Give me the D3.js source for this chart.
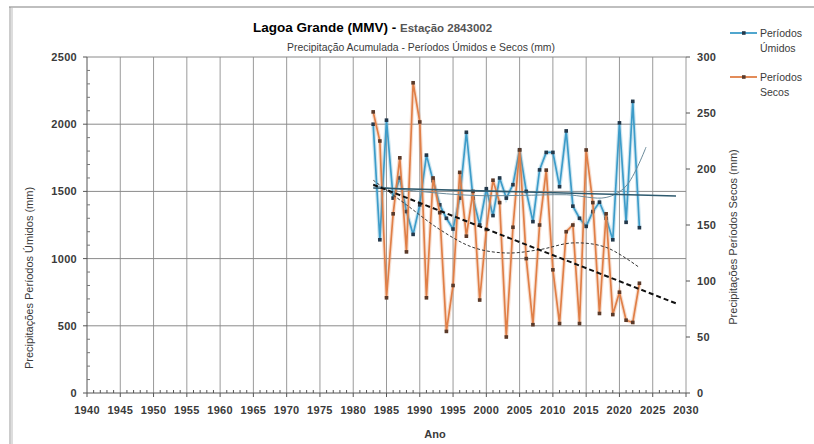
<!DOCTYPE html>
<html><head><meta charset="utf-8">
<script src="https://cdn.jsdelivr.net/npm/d3@7"></script>
<style>
body{margin:0;background:#fff;}
svg{display:block;font-family:"Liberation Sans",Arial,sans-serif;}
</style></head>
<body>
<svg id="c" width="814" height="444"></svg>
<script>
// ---- data ----
const years = d3.range(1983, 2024);
const umidos = [2000,1140,2030,1450,1600,1350,1180,1400,1770,1580,1400,1300,1220,1450,1940,1450,1250,1520,1320,1600,1450,1550,1810,1500,1275,1660,1790,1790,1535,1950,1390,1300,1240,1350,1420,1300,1140,2010,1270,2170,1230];
const secos = [251,225,85,160,210,126,277,242,85,192,161,55,96,197,140,180,83,146,190,170,50,148,217,120,61,150,199,110,62,144,150,62,217,170,71,160,70,90,65,63,98];
const trendSecosYears = [1983, 2028.5];
const trendSecosVals = [186, 80];
const trendUmidosYears = [1983, 2028.5];
const trendUmidosVals = [1525, 1466];
const polySecosYears = [1983,1988,1993,1998,2003,2008,2013,2018,2023];
const polySecosVals = [190,168,146,130,125,128,134,130,112];
const polyUmidosYears = [1983,1990,1998,2005,2012,2018,2021,2024];
const polyUmidosVals = [1540,1500,1470,1470,1475,1455,1540,1830];
const xTicks = d3.range(1940, 2031, 5);
const yLeftTicks = [0,500,1000,1500,2000,2500];
const yRightTicks = [0,50,100,150,200,250,300];

const svg = d3.select("#c");
const x = d3.scaleLinear().domain([1940,2030]).range([87,686]);
const yL = d3.scaleLinear().domain([0,2500]).range([393,57]);
const yR = d3.scaleLinear().domain([0,300]).range([393,57]);
const tickFont = 11, tickCol = "#3a3a3a";

// frame
svg.append("line").attr("x1",9).attr("x2",814).attr("y1",7).attr("y2",7).attr("stroke","#aaa").attr("stroke-width",1.5);
svg.append("line").attr("x1",10).attr("x2",10).attr("y1",7).attr("y2",444).attr("stroke","#999").attr("stroke-width",1);
svg.append("line").attr("x1",12).attr("x2",12).attr("y1",7).attr("y2",444).attr("stroke","#bbb").attr("stroke-width",1);

// grid
const g = svg.append("g");
g.selectAll(".vg").data(xTicks.filter(d=>d>1940)).enter().append("line")
  .attr("x1",d=>x(d)).attr("x2",d=>x(d)).attr("y1",yL(2500)).attr("y2",yL(0))
  .attr("stroke","#9a9a9a").attr("stroke-width",1);
g.selectAll(".hg").data(yLeftTicks.filter(d=>d>0)).enter().append("line")
  .attr("x1",x(1940)).attr("x2",x(2030)).attr("y1",d=>yL(d)).attr("y2",d=>yL(d))
  .attr("stroke","#8a8a8a").attr("stroke-width",1);

// axes
svg.append("line").attr("x1",x(1940)).attr("x2",x(1940)).attr("y1",yL(2500)).attr("y2",yL(0)).attr("stroke","#555");
svg.append("line").attr("x1",x(1940)).attr("x2",x(2030)).attr("y1",yL(0)).attr("y2",yL(0)).attr("stroke","#555");
svg.selectAll(".xmin").data(d3.range(1940,2031)).enter().append("line")
  .attr("x1",d=>x(d)).attr("x2",d=>x(d)).attr("y1",yL(0)).attr("y2",d=>d%5===0?yL(0)+4:yL(0)-3)
  .attr("stroke","#555");
svg.selectAll(".xl").data(xTicks).enter().append("text")
  .attr("x",d=>x(d)).attr("y",414).attr("text-anchor","middle").attr("letter-spacing",0.3)
  .attr("font-size",tickFont).attr("font-weight","bold").attr("fill",tickCol).text(d=>d);
svg.selectAll(".ylt").data(yLeftTicks).enter().append("line")
  .attr("x1",x(1940)-4).attr("x2",x(1940)).attr("y1",d=>yL(d)).attr("y2",d=>yL(d)).attr("stroke","#555");
svg.selectAll(".ylm").data(d3.range(100,2500,100).filter(d=>d%500)).enter().append("line")
  .attr("x1",x(1940)).attr("x2",x(1940)+3).attr("y1",d=>yL(d)).attr("y2",d=>yL(d)).attr("stroke","#777");
svg.selectAll(".yll").data(yLeftTicks).enter().append("text")
  .attr("x",77).attr("y",d=>yL(d)+4).attr("text-anchor","end").attr("letter-spacing",0.3)
  .attr("font-size",tickFont).attr("font-weight","bold").attr("fill",tickCol).text(d=>d);
svg.selectAll(".yrt").data(yRightTicks).enter().append("line")
  .attr("x1",x(2030)).attr("x2",x(2030)+4).attr("y1",d=>yR(d)).attr("y2",d=>yR(d)).attr("stroke","#555");
svg.selectAll(".yrl").data(yRightTicks).enter().append("text")
  .attr("x",697).attr("y",d=>yR(d)+4).attr("text-anchor","start").attr("letter-spacing",0.3)
  .attr("font-size",tickFont).attr("font-weight","bold").attr("fill",tickCol).text(d=>d);

// series
const lineL = d3.line().x((d,i)=>x(years[i])).y(d=>yL(d));
const lineR = d3.line().x((d,i)=>x(years[i])).y(d=>yR(d));
const blue = "#3d9cc9", orange = "#e07f47";
svg.append("path").datum(umidos).attr("d",lineL).attr("fill","none").attr("stroke",blue).attr("stroke-opacity",0.25).attr("stroke-width",4);
svg.append("path").datum(umidos).attr("d",lineL).attr("fill","none").attr("stroke",blue).attr("stroke-width",1.7);
svg.selectAll(".mu").data(umidos).enter().append("rect")
  .attr("x",(d,i)=>x(years[i])-1.8).attr("y",d=>yL(d)-1.8).attr("width",3.6).attr("height",3.6).attr("fill","#24384a");
svg.append("path").datum(secos).attr("d",lineR).attr("fill","none").attr("stroke",orange).attr("stroke-opacity",0.25).attr("stroke-width",4);
svg.append("path").datum(secos).attr("d",lineR).attr("fill","none").attr("stroke",orange).attr("stroke-width",1.7);
svg.selectAll(".ms").data(secos).enter().append("rect")
  .attr("x",(d,i)=>x(years[i])-1.8).attr("y",d=>yR(d)-1.8).attr("width",3.6).attr("height",3.6).attr("fill","#5a3a2a");

// trends
const curve = d3.line().curve(d3.curveCatmullRom);
svg.append("path").attr("d",curve(polySecosYears.map((yy,i)=>[x(yy),yR(polySecosVals[i])])))
  .attr("fill","none").attr("stroke","#333").attr("stroke-width",1).attr("stroke-dasharray","3,2");
svg.append("path").attr("d",curve(polyUmidosYears.map((yy,i)=>[x(yy),yL(polyUmidosVals[i])])))
  .attr("fill","none").attr("stroke","#6a8a9a").attr("stroke-width",1);
svg.append("line").attr("x1",x(trendUmidosYears[0])).attr("x2",x(trendUmidosYears[1]))
  .attr("y1",yL(trendUmidosVals[0])).attr("y2",yL(trendUmidosVals[1]))
  .attr("stroke","#2f5a6e").attr("stroke-width",1.6);
svg.append("line").attr("x1",x(trendSecosYears[0])).attr("x2",x(trendSecosYears[1]))
  .attr("y1",yR(trendSecosVals[0])).attr("y2",yR(trendSecosVals[1]))
  .attr("stroke","#111").attr("stroke-width",2).attr("stroke-dasharray","5,3");

// titles
const t = svg.append("text").attr("x",253).attr("y",32);
t.append("tspan").attr("font-size",13.5).attr("font-weight","bold").attr("fill","#000").text("Lagoa Grande (MMV) - ");
t.append("tspan").attr("font-size",11.5).attr("font-weight","bold").attr("fill","#555").text(" Estação 2843002");
svg.append("text").attr("x",421).attr("y",51).attr("text-anchor","middle").attr("font-size",10.4).attr("fill","#3a3a3a")
  .text("Precipitação Acumulada - Períodos  Úmidos e Secos (mm)");
svg.append("text").attr("x",435).attr("y",438).attr("text-anchor","middle").attr("font-size",11).attr("font-weight","bold").attr("fill","#3a3a3a").text("Ano");
svg.append("text").attr("transform","translate(33,278) rotate(-90)").attr("text-anchor","middle").attr("font-size",11).attr("fill","#3a3a3a")
  .text("Precipitações  Períodos Úmidos (mm)");
svg.append("text").attr("transform","translate(737,237) rotate(-90)").attr("text-anchor","middle").attr("font-size",11).attr("fill","#3a3a3a")
  .text("Precipitações  Períodos Secos (mm)");

// legend
const leg = [{c:blue,m:"#24384a",l1:"Períodos",l2:"Úmidos",y:33},{c:orange,m:"#5a3a2a",l1:"Períodos",l2:"Secos",y:77}];
leg.forEach(d=>{
  svg.append("line").attr("x1",730).attr("x2",757).attr("y1",d.y).attr("y2",d.y).attr("stroke",d.c).attr("stroke-width",1.8);
  svg.append("rect").attr("x",742).attr("y",d.y-1.8).attr("width",3.6).attr("height",3.6).attr("fill",d.m);
  svg.append("text").attr("x",760).attr("y",d.y+4).attr("font-size",10.5).attr("fill","#3a3a3a").text(d.l1);
  svg.append("text").attr("x",760).attr("y",d.y+19).attr("font-size",10.5).attr("fill","#3a3a3a").text(d.l2);
});
</script>
</body></html>
